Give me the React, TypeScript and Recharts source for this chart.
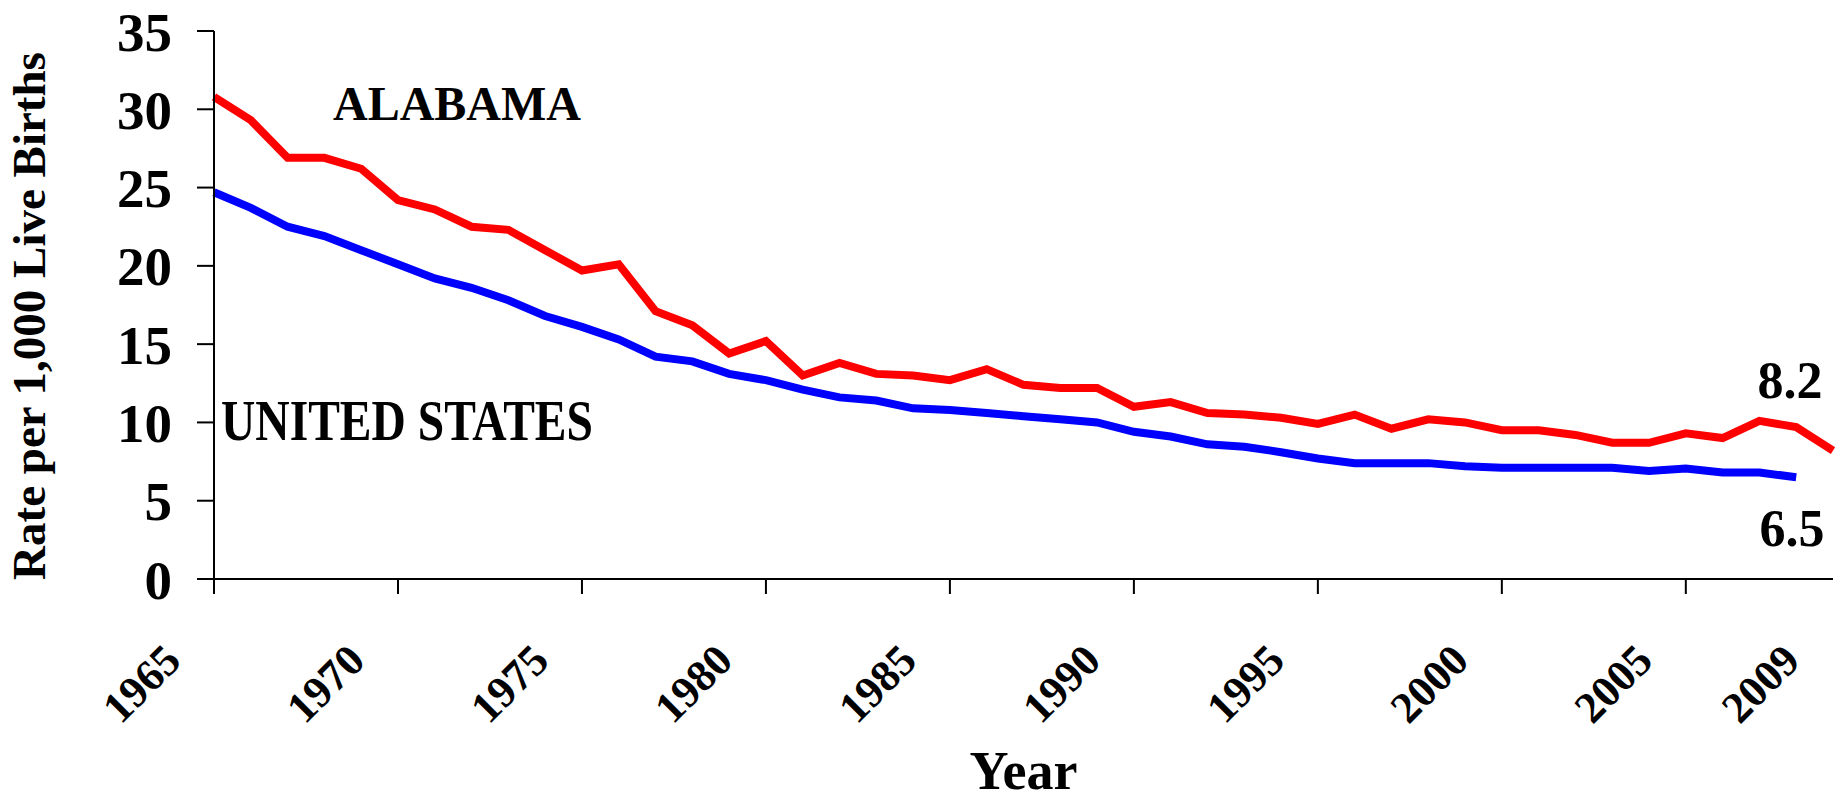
import { LineChart, Line, XAxis, YAxis, Label } from 'recharts';

const years = [
  1965, 1966, 1967, 1968, 1969, 1970, 1971, 1972, 1973, 1974,
  1975, 1976, 1977, 1978, 1979, 1980, 1981, 1982, 1983, 1984,
  1985, 1986, 1987, 1988, 1989, 1990, 1991, 1992, 1993, 1994,
  1995, 1996, 1997, 1998, 1999, 2000, 2001, 2002, 2003, 2004,
  2005, 2006, 2007, 2008, 2009,
];

const alabama = [
  30.8, 29.3, 26.9, 26.9, 26.2, 24.2, 23.6, 22.5, 22.3, 21.0,
  19.7, 20.1, 17.1, 16.2, 14.4, 15.2, 13.0, 13.8, 13.1, 13.0,
  12.7, 13.4, 12.4, 12.2, 12.2, 11.0, 11.3, 10.6, 10.5, 10.3,
  9.9, 10.5, 9.6, 10.2, 10.0, 9.5, 9.5, 9.2, 8.7, 8.7,
  9.3, 9.0, 10.1, 9.7, 8.2,
];

// US series stops at 2008
const unitedStates = [
  24.7, 23.7, 22.5, 21.9, 21.0, 20.1, 19.2, 18.6, 17.8, 16.8,
  16.1, 15.3, 14.2, 13.9, 13.1, 12.7, 12.1, 11.6, 11.4, 10.9,
  10.8, 10.6, 10.4, 10.2, 10.0, 9.4, 9.1, 8.6, 8.45, 8.1,
  7.7, 7.4, 7.4, 7.4, 7.2, 7.1, 7.1, 7.1, 7.1, 6.9,
  7.05, 6.8, 6.8, 6.5,
];

const yTicks = [0, 5, 10, 15, 20, 25, 30, 35];
const xTicks = [1965, 1970, 1975, 1980, 1985, 1990, 1995, 2000, 2005, 2009];

const FONT = '"Liberation Serif", "Times New Roman", serif';

const data = years.map((year, i) => ({
  year,
  alabama: alabama[i],
  us: i < unitedStates.length ? unitedStates[i] : null,
}));

const lastAL = alabama[alabama.length - 1];
const lastUS = unitedStates[unitedStates.length - 1];

function YearTick(props: any) {
  const { x, y, payload } = props;
  const v = payload.value;
  const tx = x - 31;
  const ty = y + 69;
  return (
    <g>
      {v % 5 === 0 && <line x1={x} x2={x} y1={y - 15} y2={y} stroke="#000" strokeWidth={2} />}
      <text
        x={tx}
        y={ty}
        transform={`rotate(-45 ${tx} ${ty})`}
        textAnchor="end"
        fontSize={44}
        fontWeight="bold"
        fontFamily={FONT}
        fill="#000"
      >
        {v}
      </text>
    </g>
  );
}

const txt = { fontFamily: FONT, fontWeight: 'bold' as const, fill: '#000' };

export default function App() {
  return (
    <div style={{ position: 'absolute', left: 0, top: 0, background: '#fff' }}>
      <LineChart width={1838} height={803} data={data} margin={{ top: 31, right: 5, bottom: 0, left: 0 }}>
        <XAxis
          dataKey="year"
          type="number"
          domain={[1965, 2009]}
          ticks={xTicks}
          interval={0}
          tick={<YearTick />}
          tickLine={false}
          tickSize={15}
          tickMargin={0}
          height={224}
          axisLine={{ stroke: '#000', strokeWidth: 2 }}
        >
          <Label
            content={({ viewBox }: any) => (
              <text x={viewBox.x + viewBox.width / 2} y={789} textAnchor="middle" fontSize={54} {...txt}>
                Year
              </text>
            )}
          />
        </XAxis>
        <YAxis
          domain={[0, 35]}
          ticks={yTicks}
          interval={0}
          width={214}
          tickSize={17}
          tickMargin={25}
          tick={{ fontSize: 55, fontWeight: 'bold', fill: '#000', fontFamily: FONT }}
          axisLine={{ stroke: '#000', strokeWidth: 2 }}
          tickLine={{ stroke: '#000', strokeWidth: 2 }}
        >
          <Label
            content={() => (
              <text x={45} y={316} transform="rotate(-90 45 316)" textAnchor="middle" fontSize={47} {...txt}>
                Rate per 1,000 Live Births
              </text>
            )}
          />
        </YAxis>
        <Line type="linear" dataKey="alabama" stroke="#ff0000" strokeWidth={8} dot={false} isAnimationActive={false} />
        <Line type="linear" dataKey="us" stroke="#0000ff" strokeWidth={8} dot={false} isAnimationActive={false} />
        <text x={333} y={120} fontSize={48} {...txt}>ALABAMA</text>
        <text x={221} y={440} fontSize={56} textLength={372} lengthAdjust="spacingAndGlyphs" {...txt}>
          UNITED STATES
        </text>
        <text x={1790} y={398} textAnchor="middle" fontSize={52} {...txt}>{lastAL.toFixed(1)}</text>
        <text x={1792} y={546} textAnchor="middle" fontSize={52} {...txt}>{lastUS.toFixed(1)}</text>
      </LineChart>
    </div>
  );
}
